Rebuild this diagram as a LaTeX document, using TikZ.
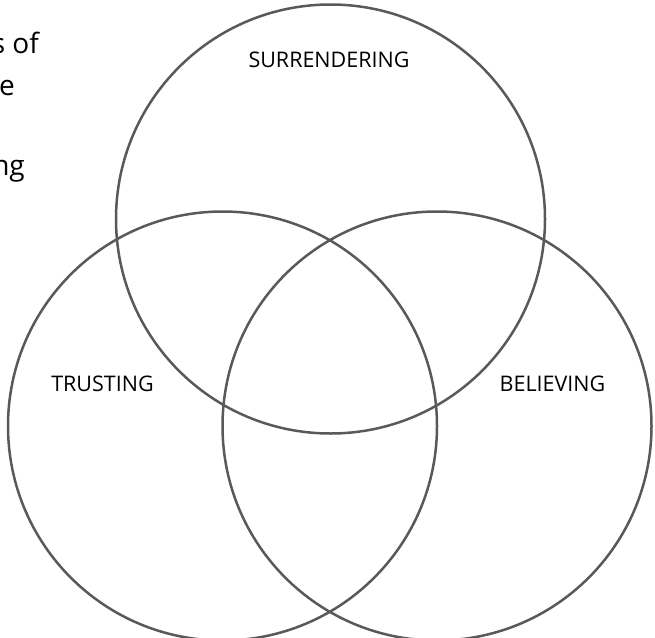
\documentclass[tikz,border=0pt]{standalone}
\usepackage{fontspec}
\setmainfont{Open Sans}
\definecolor{ringgray}{HTML}{595959}
\tikzstyle{ring}=[circle,draw=ringgray,line width=2.5pt,minimum size=429pt,inner sep=0pt]
\tikzstyle{setname}=[font=\fontsize{21.5}{26}\selectfont,inner sep=0pt]
\tikzstyle{sidetext}=[font=\fontsize{28}{34}\selectfont,anchor=base east,inner sep=0pt]

\begin{document}
\begin{tikzpicture}[x=1pt,y=-1pt]
\useasboundingbox (0,0) rectangle (655,637);
\clip (0,0) rectangle (655,637);
% three overlapping sets
\node[ring] (surr)   at (330.5,219) {};
\node[ring] (trust)  at (222.5,426) {};
\node[ring] (belief) at (437,426)   {};
\node[setname] (surrtxt)   at (329,60)    {SURRENDERING};
\node[setname] (trusttxt)  at (102.5,384) {TRUSTING};
\node[setname] (belieftxt) at (552.5,384) {BELIEVING};
% ends of the text running in from the left
\node[sidetext] (side1) at (39,53)  {s of};
\node[sidetext] (side2) at (15,95)  {e};
\node[sidetext] (side4) at (25,175) {ng};
\end{tikzpicture}
\end{document}
